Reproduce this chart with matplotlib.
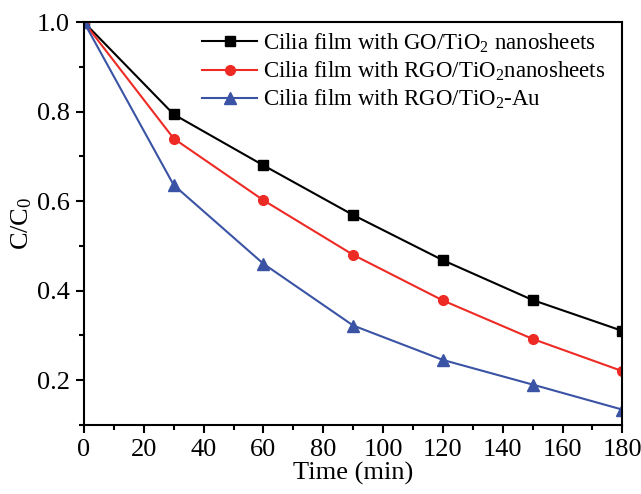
import matplotlib
matplotlib.use("Agg")
import matplotlib.pyplot as plt
from matplotlib.ticker import MultipleLocator

plt.rcParams['font.family'] = ['Liberation Serif']
plt.rcParams['mathtext.fontset'] = 'custom'
plt.rcParams['mathtext.rm'] = 'Liberation Serif'
plt.rcParams['mathtext.it'] = 'Liberation Serif:italic'

time = [0, 30, 60, 90, 120, 150, 180]
go_tio2 = [1.0, 0.794, 0.680, 0.569, 0.468, 0.379, 0.310]
rgo_tio2 = [1.0, 0.740, 0.602, 0.480, 0.378, 0.292, 0.220]
rgo_tio2_au = [1.0, 0.636, 0.460, 0.322, 0.245, 0.190, 0.134]
labels = ["Cilia film with GO/TiO$_2$ nanosheets",
          "Cilia film with RGO/TiO$_2$nanosheets",
          "Cilia film with RGO/TiO$_2$-Au"]

fig = plt.figure(figsize=(6.41, 4.94), dpi=100)
ax = fig.add_axes([0.131, 0.140, 0.840, 0.815])

ax.plot(time, go_tio2, color='black', marker='s', ms=6.5, lw=1.5, label=labels[0])
ax.plot(time, rgo_tio2, color='#ee2a24', marker='o', ms=7, lw=1.5, label=labels[1])
ax.plot(time, rgo_tio2_au, color='#3a53a4', marker='^', ms=8, lw=1.5, label=labels[2])

ax.set_xlim(0, 180)
ax.set_ylim(0.1, 1.0)
ax.xaxis.set_major_locator(MultipleLocator(20))
ax.xaxis.set_minor_locator(MultipleLocator(10))
ax.yaxis.set_major_locator(MultipleLocator(0.2))
ax.yaxis.set_minor_locator(MultipleLocator(0.1))
ax.set_yticks([0.2, 0.4, 0.6, 0.8, 1.0])
ax.tick_params(which='major', direction='out', length=6, width=1.5, labelsize=19, pad=4)
ax.tick_params(which='minor', direction='out', length=3.5, width=1.5)
for s in ax.spines.values():
    s.set_linewidth(1.5)

ax.set_xlabel("Time (min)", fontsize=19, labelpad=1)
ax.set_ylabel("C/C$_0$", fontsize=19, labelpad=2)

leg = ax.legend(loc='upper right', frameon=False, fontsize=16.5, handlelength=2.4,
                handletextpad=0.25, labelspacing=0.22, borderaxespad=0.0,
                bbox_to_anchor=(0.985, 1.0))

fig.savefig("out.png", dpi=100)
